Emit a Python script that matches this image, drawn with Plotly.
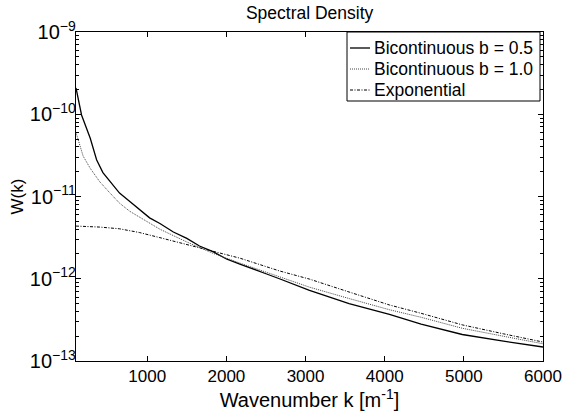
import plotly.graph_objects as go

# Wavenumber k [1/m] and spectral density values
k_b05 = [100, 170, 280, 360, 440, 530, 650, 780, 900, 1030, 1160, 1330, 1500, 1660, 1830,
         2000, 2170, 2340, 2500, 2670, 3050, 3550, 4060, 4460, 4980, 5500, 6000]
w_b05 = [2.09e-10, 9.8e-11, 5.1e-11, 2.8e-11, 1.95e-11, 1.51e-11, 1.10e-11, 8.7e-12, 6.9e-12,
         5.5e-12, 4.7e-12, 3.7e-12, 3.1e-12, 2.5e-12, 2.14e-12, 1.74e-12, 1.51e-12, 1.30e-12,
         1.15e-12, 1.0e-12, 7.2e-13, 5.0e-13, 3.7e-13, 2.8e-13, 2.1e-13, 1.74e-13, 1.48e-13]

k_b10 = [100, 150, 190, 280, 400, 530, 650, 780, 900, 1030, 1160, 1500, 1830, 2170, 2670,
         3050, 3550, 4060, 4460, 4980, 5500, 6000]
w_b10 = [6.0e-11, 4.3e-11, 3.1e-11, 2.2e-11, 1.51e-11, 1.10e-11, 8.3e-12, 6.6e-12, 5.6e-12,
         4.7e-12, 4.0e-12, 2.8e-12, 2.04e-12, 1.55e-12, 1.06e-12, 7.9e-13, 5.75e-13, 4.2e-13,
         3.4e-13, 2.5e-13, 2.0e-13, 1.62e-13]

k_exp = [100, 400, 650, 900, 1160, 1660, 2170, 2670, 3050, 3550, 4060, 4460, 4980, 5500, 6000]
w_exp = [4.37e-12, 4.25e-12, 4.05e-12, 3.65e-12, 3.16e-12, 2.4e-12, 1.78e-12, 1.245e-12,
         9.9e-13, 6.9e-13, 4.8e-13, 3.8e-13, 2.75e-13, 2.14e-13, 1.70e-13]

x_ticks = [1000, 2000, 3000, 4000, 5000, 6000]
names = ["Bicontinuous b = 0.5", "Bicontinuous b = 1.0", "Exponential"]

FONT = "Liberation Sans, Arial, sans-serif"

styles = [
    dict(color="black", width=1.3),
    dict(color="#444444", width=1, dash="1px,1px"),
    dict(color="black", width=1, dash="3px,1.5px,1px,1.5px"),
]

fig = go.Figure()
for kx, wy, nm, st in zip([k_b05, k_b10, k_exp], [w_b05, w_b10, w_exp], names, styles):
    fig.add_trace(go.Scatter(x=kx, y=wy, mode="lines", name=nm, line=st, showlegend=False))

# Plot area in pixels: x 76..543, y 32..361
PW, PH = 467.0, 329.0
def px(x):
    return (x - 76) / PW
def py(y):
    return 1 - (y - 32) / PH

shapes = [dict(type="rect", xref="paper", yref="paper", x0=px(347), x1=px(540),
               y0=py(101), y1=py(32), line=dict(color="black", width=1),
               fillcolor="white", layer="above")]
annotations = []
row_y = [48, 69, 90]
for nm, st, ry in zip(names, styles, row_y):
    shapes.append(dict(type="line", xref="paper", yref="paper", x0=px(350), x1=px(370),
                       y0=py(ry), y1=py(ry), line=st, layer="above"))
    annotations.append(dict(text=nm, xref="paper", yref="paper", x=px(372), y=py(ry),
                            xanchor="left", yanchor="middle", showarrow=False,
                            font=dict(size=17.5)))
annotations.append(dict(text="W(k)", xref="paper", yref="paper", x=px(17), y=0.5,
                        textangle=-90, xanchor="center", yanchor="middle", showarrow=False,
                        font=dict(size=17)))

fig.update_layout(
    width=565, height=411,
    margin=dict(l=76, r=22, t=32, b=50, autoexpand=False),
    paper_bgcolor="white", plot_bgcolor="white",
    font=dict(family=FONT, size=17, color="black"),
    title=dict(text="Spectral Density", x=0.548, xanchor="center", y=0.968, yanchor="middle",
               font=dict(size=17.5)),
    showlegend=False,
    shapes=shapes,
    annotations=annotations,
)
fig.update_xaxes(range=[100, 6000], tickvals=x_ticks, ticktext=[str(v) for v in x_ticks],
                 ticks="inside", ticklen=5, tickcolor="black", showline=True, linecolor="black",
                 linewidth=1, mirror="ticks", showgrid=False, zeroline=False, automargin=False,
                 title=dict(text="Wavenumber k [m<sup>-1</sup>]"))
fig.update_yaxes(type="log", range=[-13, -9], dtick=1, exponentformat="power",
                 tickfont=dict(size=16), ticklabelstandoff=-4,
                 ticks="inside", ticklen=5, tickcolor="black", showline=True, linecolor="black",
                 linewidth=1, mirror="ticks", showgrid=False, zeroline=False, automargin=False,
                 minor=dict(ticks="inside", ticklen=3, tickcolor="black", showgrid=False))

fig.write_html("out.html")
